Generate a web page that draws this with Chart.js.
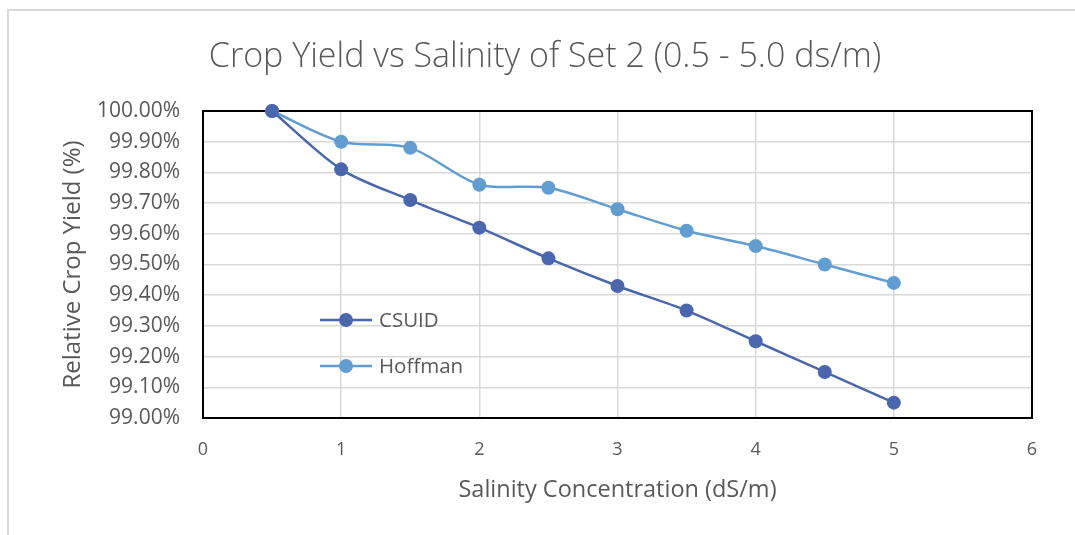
<!DOCTYPE html>
<html>
<head>
<meta charset="utf-8">
<script src="https://cdn.jsdelivr.net/npm/chart.js@4/dist/chart.umd.min.js"></script>
<style>
  html, body { margin: 0; padding: 0; background: #fff; }
  #wrap { position: relative; width: 1075px; height: 535px; overflow: hidden; }
  #frame { position: absolute; left: 7px; top: 9px; width: 1080px; height: 540px;
           border-top: 2px solid #d9d9d9; border-left: 2px solid #d9d9d9; box-sizing: border-box; }
  canvas { position: absolute; left: 0; top: 0; }
</style>
</head>
<body>
<div id="wrap">
  <div id="frame"></div>
  <canvas id="c" width="1075" height="535"></canvas>
</div>
<script>
const chartTitle = 'Crop Yield vs Salinity of Set 2 (0.5 - 5.0 ds/m)';
const xTitle = 'Salinity Concentration (dS/m)';
const yTitle = 'Relative Crop Yield (%)';
const salinity = [0.5, 1, 1.5, 2, 2.5, 3, 3.5, 4, 4.5, 5];
const csuid   = [100.00, 99.81, 99.71, 99.62, 99.52, 99.43, 99.35, 99.25, 99.15, 99.05];
const hoffman = [100.00, 99.90, 99.88, 99.76, 99.75, 99.68, 99.61, 99.56, 99.50, 99.44];
const seriesNames = ['CSUID', 'Hoffman'];
const seriesColors = ['#4A66AC', '#629DD1'];

const toPts = (vals) => salinity.map((x, i) => ({ x: x, y: vals[i] }));

const titleShift = {
  id: 'titleShift',
  afterLayout(chart) {
    const t = chart.titleBlock;
    if (t) { t.left += 29; t.right += 29; }
  }
};

const framePlugin = {
  id: 'frame',
  beforeDatasetsDraw(chart) {
    const a = chart.chartArea, ctx = chart.ctx;
    ctx.save();
    ctx.strokeStyle = '#000';
    ctx.lineWidth = 2;
    ctx.strokeRect(a.left, a.top, a.right - a.left, a.bottom - a.top);
    ctx.restore();
  }
};

const legendPlugin = {
  id: 'inlineLegend',
  afterDatasetsDraw(chart) {
    const ctx = chart.ctx;
    const a = chart.chartArea;
    const items = chart.data.datasets;
    ctx.save();
    items.forEach((ds, i) => {
      const y = a.top + 209 + i * 46;
      const x0 = a.left + 117;
      ctx.strokeStyle = ds.borderColor;
      ctx.lineWidth = 2.5;
      ctx.beginPath();
      ctx.moveTo(x0, y);
      ctx.lineTo(x0 + 52, y);
      ctx.stroke();
      ctx.fillStyle = ds.pointBackgroundColor;
      ctx.beginPath();
      ctx.arc(x0 + 26, y, 7, 0, Math.PI * 2);
      ctx.fill();
      ctx.fillStyle = '#595959';
      ctx.font = '20.5px "Open Sans"';
      ctx.textBaseline = 'middle';
      ctx.textAlign = 'left';
      ctx.fillText(ds.label, x0 + 59, y + 1);
    });
    ctx.restore();
  }
};

new Chart(document.getElementById('c'), {
  type: 'line',
  data: {
    datasets: [
      { label: seriesNames[0], data: toPts(csuid), borderColor: seriesColors[0], backgroundColor: seriesColors[0],
        pointBackgroundColor: seriesColors[0], pointBorderColor: seriesColors[0], pointRadius: 7, pointBorderWidth: 0,
        borderWidth: 2.5, tension: 0.3, fill: false },
      { label: seriesNames[1], data: toPts(hoffman), borderColor: seriesColors[1], backgroundColor: seriesColors[1],
        pointBackgroundColor: seriesColors[1], pointBorderColor: seriesColors[1], pointRadius: 7, pointBorderWidth: 0,
        borderWidth: 2.5, tension: 0.3, fill: false }
    ]
  },
  options: {
    responsive: false,
    animation: false,
    clip: false,
    layout: { padding: { left: 0, right: 43, top: 0, bottom: 0 } },
    plugins: {
      legend: { display: false },
      tooltip: { enabled: false },
      title: {
        display: true, text: chartTitle, color: '#595959',
        font: { family: '"Open Sans"', size: 34, weight: 300, lineHeight: 1.2 },
        padding: { top: 36.6, bottom: 33.6 }
      }
    },
    scales: {
      x: {
        type: 'linear', min: 0, max: 6,
        ticks: { stepSize: 1, color: '#595959', padding: 21, font: { family: '"Open Sans"', size: 18 } },
        grid: { color: '#d9d9d9', lineWidth: 1.5, drawTicks: false },
        border: { display: false },
        title: { display: true, text: xTitle, color: '#595959', font: { family: '"Open Sans"', size: 23.5 }, padding: { top: 0, bottom: 31 } },
        afterFit(s) { s.height = 117; }
      },
      y: {
        type: 'linear', min: 99, max: 100,
        ticks: { stepSize: 0.1, color: '#595959', padding: 23, font: { family: '"Open Sans"', size: 21 },
                 callback: (v) => v.toFixed(2) + '%' },
        grid: { color: '#d9d9d9', lineWidth: 1.5, drawTicks: false },
        border: { display: false },
        title: { display: true, text: yTitle, color: '#595959', font: { family: '"Open Sans"', size: 24 }, padding: { top: 58.6, bottom: 0 } },
        afterFit(s) { s.width = 203; }
      }
    }
  },
  plugins: [titleShift, framePlugin, legendPlugin]
});
</script>
</body>
</html>
